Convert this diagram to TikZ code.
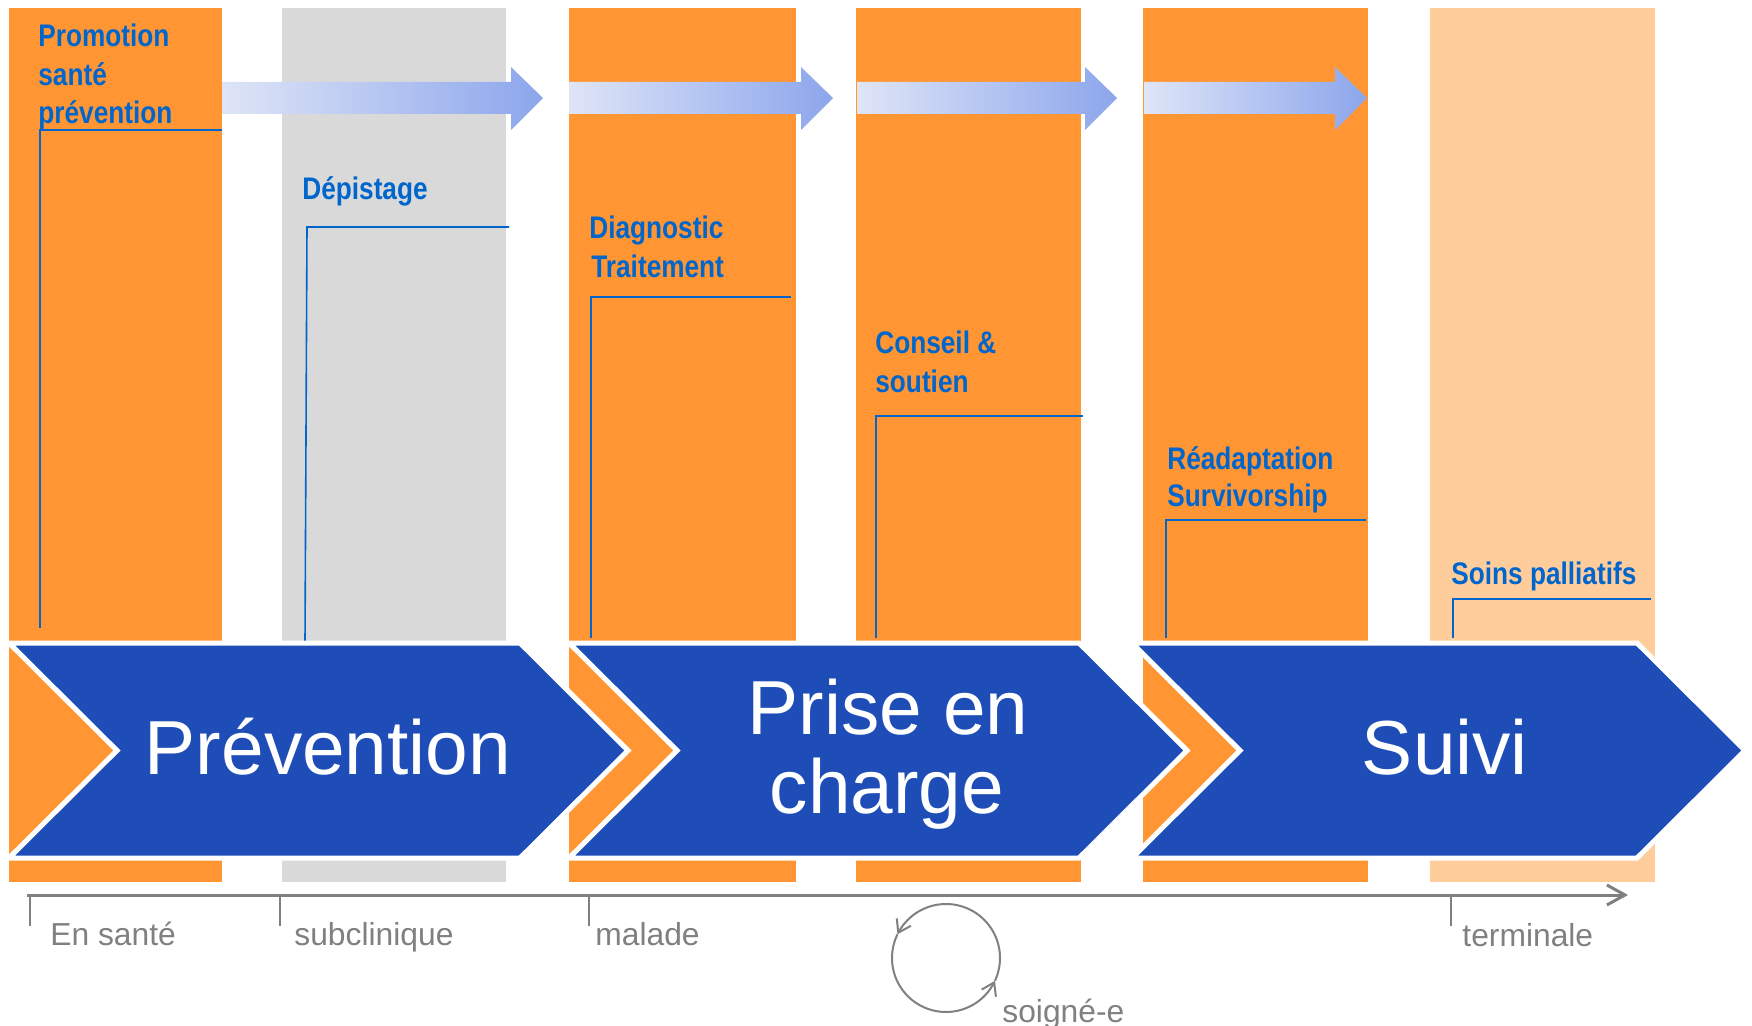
\documentclass[tikz,border=0pt]{standalone}
\usepackage{fontspec}
\setmainfont{Liberation Sans}
\newfontfamily\lblfont[FakeStretch=0.84]{Liberation Sans Bold}
\usetikzlibrary{arrows.meta}

\definecolor{phaseorange}{HTML}{FF9633}
\definecolor{preclin}{HTML}{D9D9D9}
\definecolor{termorange}{HTML}{FFCC9C}
\definecolor{chevblue}{HTML}{1E4DB7}
\definecolor{lblblue}{HTML}{0066CC}
\definecolor{axisgray}{HTML}{808080}
\definecolor{flowL}{HTML}{DFE5F7}
\definecolor{flowR}{HTML}{8CA6EC}

\tikzset{
  chevron/.style={fill=chevblue, draw=white, line width=2.5pt, line join=miter},
  phase/.style={text=white, font=\fontsize{38.3}{40}\selectfont, anchor=base, inner sep=0pt},
  lbl/.style={text=lblblue, font=\lblfont\fontsize{15.6}{19}\selectfont, anchor=base west, inner sep=0pt},
  leader/.style={draw=lblblue, line width=0.8pt},
  ticklbl/.style={text=axisgray, font=\fontsize{15.9}{18}\selectfont, anchor=base west, inner sep=0pt},
  tick/.style={draw=axisgray, line width=1.2pt},
}

\begin{document}
\begin{tikzpicture}[x=0.5pt,y=-0.5pt]
	\useasboundingbox (0,0) rectangle (1752,1026);
	% columns
	\fill[phaseorange] (9,8) rectangle (222,882);
	\fill[preclin] (282,8) rectangle (506,882);
	\fill[phaseorange] (569,8) rectangle (796,882);
	\fill[phaseorange] (856,8) rectangle (1081,882);
	\fill[phaseorange] (1143,8) rectangle (1368,882);
	\fill[termorange] (1430,8) rectangle (1655,882);

	% flow arrows on top
	\foreach \xa/\xb/\xc in {222/511/543, 569/801/833, 857/1085/1117, 1144/1335/1367}
		\shade[left color=flowL, right color=flowR]
			(\xa,82) -- (\xb,82) -- (\xb,67) -- (\xc,98) -- (\xb,130) -- (\xb,114) -- (\xa,114) -- cycle;

	% labels and leaders
	\node[lbl] (promoA) at (38,47) {Promotion};
	\node[lbl] (promoB) at (38,86) {santé};
	\node[lbl] (promoC) at (38,124) {prévention};
	\coordinate (k1) at (40,130);
	\draw[leader] (222,130) -- (k1) -- (40,628);

	\node[lbl] (depist) at (302,200) {Dépistage};
	\coordinate (k2) at (307,227);
	\draw[leader] (509,227) -- (k2) -- (305,643);

	\node[lbl] (diagA) at (589,239) {Diagnostic};
	\node[lbl] (diagB) at (591,278) {Traitement};
	\coordinate (k3) at (591,297);
	\draw[leader] (791,297) -- (k3) -- (591,638);

	\node[lbl] (consA) at (875,354) {Conseil \&};
	\node[lbl] (consB) at (875,393) {soutien};
	\coordinate (k4) at (876,416);
	\draw[leader] (1083,416) -- (k4) -- (876,638);

	\node[lbl] (readA) at (1167,470) {Réadaptation};
	\node[lbl] (readB) at (1167,507) {Survivorship};
	\coordinate (k5) at (1166,520);
	\draw[leader] (1366,520) -- (k5) -- (1166,638);

	\node[lbl] (pall) at (1451,584) {Soins palliatifs};
	\coordinate (k6) at (1453,599);
	\draw[leader] (1651,599) -- (k6) -- (1453,638);

	% chevrons
	\draw[chevron] (9,643) -- (520,643) -- (628,750.5) -- (520,858) -- (9,858) -- (117,750.5) -- cycle;
	\draw[chevron] (569,643) -- (1079,643) -- (1187,750.5) -- (1079,858) -- (569,858) -- (677,750.5) -- cycle;
	\draw[chevron] (1132,643) -- (1637,643) -- (1745,750.5) -- (1637,858) -- (1132,858) -- (1240,750.5) -- cycle;
	\node[phase] (prev) at (328,774) {Prévention};
	\node[phase] (priseA) at (888,734) {Prise en};
	\node[phase] (priseB) at (887,813) {charge};
	\node[phase] (suivi) at (1445,774) {Suivi};

	% axis
	\coordinate (ax0) at (27,895);
	\coordinate (ax1) at (1628,895);
	\draw[axisgray, line width=1.5pt, -{Straight Barb[length=9pt,width=10pt]}] (ax0) -- (ax1);
	\draw[tick] (30,895) -- (30,926);
	\draw[tick] (280,895) -- (280,926);
	\draw[tick] (589,895) -- (589,926);
	\draw[tick] (1451,895) -- (1451,926);
	\node[ticklbl] (sante) at (50,945) {En santé};
	\node[ticklbl] (subcl) at (294,945) {subclinique};
	\node[ticklbl] (malade) at (595,945) {malade};
	\node[ticklbl] (termi) at (1462,946) {terminale};

	% care cycle
	\draw[axisgray, line width=1pt, -{Straight Barb[length=6pt,width=8pt]}]
		plot[domain=-25:154, samples=60] ({946+54*cos(\x)},{958-54*sin(\x)});
	\draw[axisgray, line width=1pt, -{Straight Barb[length=6pt,width=8pt]}]
		plot[domain=154:335, samples=60] ({946+54*cos(\x)},{958-54*sin(\x)});
	\node[ticklbl] (soigne) at (1002,1022) {soigné-e};
\end{tikzpicture}
\end{document}
